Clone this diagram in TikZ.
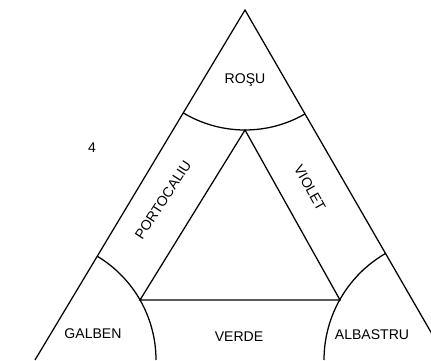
\documentclass[tikz,border=0pt]{standalone}
\usepackage{fontspec}
\setmainfont{Liberation Sans}
\usetikzlibrary{calc}
\begin{document}
\begin{tikzpicture}[x=0.025cm, y=0.025cm, line width=0.9pt, every node/.style={font=\fontsize{10}{12}\selectfont}]
    \useasboundingbox (0, 0) rectangle (431, 360);
    \coordinate (top) at (245, 350);
    \coordinate (left) at (35, 0);
    \coordinate (right) at (447, 0);
    \coordinate (itop) at (245, 230);
    \coordinate (ileft) at (140, 60);
    \coordinate (iright) at (340, 60);
    \draw (left) -- (top) -- (right);
    \draw (itop) -- (ileft) -- (iright) -- cycle;
    % arcs round the corners
    \draw ($(top) + (239:120)$) arc[start angle=239, end angle=300, radius=120];
    \draw ($(left) + (0:121)$) arc[start angle=0, end angle=59, radius=121];
    \draw ($(right) + (180:123)$) arc[start angle=180, end angle=120, radius=123];
    \node (rosu) at (245, 280) {ROŞU};
    \node (four) at (92, 212) {4};
    \node[rotate=57] (portocaliu) at (163, 160) {PORTOCALIU};
    \node[rotate=-61] (violet) at (310, 172) {VIOLET};
    \node (galben) at (93, 26) {GALBEN};
    \node (verde) at (239, 23) {VERDE};
    \node (albastru) at (372, 25) {ALBASTRU};
\end{tikzpicture}
\end{document}
